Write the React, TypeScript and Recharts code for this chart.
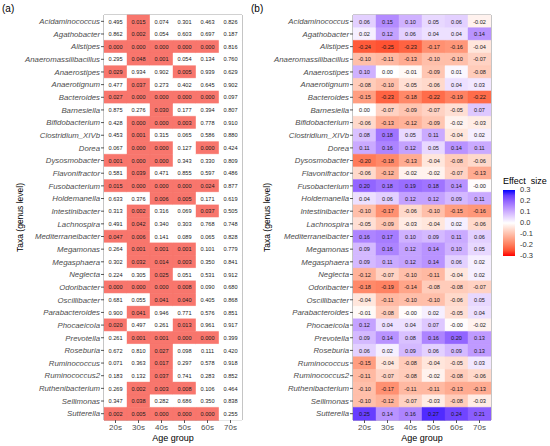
import React from "react";
import {
  BarChart,
  Bar,
  Cell,
  XAxis,
  YAxis,
  LabelList,
  ReferenceArea,
} from "recharts";

const taxa = [
  "Acidaminococcus",
  "Agathobacter",
  "Alistipes",
  "Anaeromassilibacillus",
  "Anaerostipes",
  "Anaerotignum",
  "Bacteroides",
  "Barnesiella",
  "Bifidobacterium",
  "Clostridium_XIVb",
  "Dorea",
  "Dysosmobacter",
  "Flavonifractor",
  "Fusobacterium",
  "Holdemanella",
  "Intestinibacter",
  "Lachnospira",
  "Mediterraneibacter",
  "Megamonas",
  "Megasphaera",
  "Neglecta",
  "Odoribacter",
  "Oscillibacter",
  "Parabacteroides",
  "Phocaeicola",
  "Prevotella",
  "Roseburia",
  "Ruminococcus",
  "Ruminococcus2",
  "Ruthenibacterium",
  "Sellimonas",
  "Sutterella",
];

const ageGroups = ["20s", "30s", "40s", "50s", "60s", "70s"];

// p-values, one row per taxon, columns 20s..70s
const pValues = [
  [0.495, 0.015, 0.074, 0.301, 0.463, 0.826],
  [0.862, 0.002, 0.054, 0.603, 0.697, 0.187],
  [0.0, 0.0, 0.0, 0.0, 0.0, 0.816],
  [0.295, 0.048, 0.001, 0.054, 0.134, 0.76],
  [0.029, 0.934, 0.902, 0.005, 0.939, 0.629],
  [0.477, 0.037, 0.273, 0.402, 0.645, 0.902],
  [0.027, 0.0, 0.0, 0.0, 0.0, 0.097],
  [0.875, 0.276, 0.03, 0.177, 0.394, 0.807],
  [0.428, 0.0, 0.0, 0.003, 0.778, 0.91],
  [0.453, 0.001, 0.315, 0.065, 0.586, 0.88],
  [0.067, 0.0, 0.0, 0.127, 0.0, 0.424],
  [0.001, 0.0, 0.0, 0.343, 0.33, 0.809],
  [0.581, 0.039, 0.471, 0.855, 0.597, 0.486],
  [0.015, 0.0, 0.0, 0.0, 0.024, 0.877],
  [0.633, 0.376, 0.006, 0.005, 0.171, 0.619],
  [0.313, 0.002, 0.316, 0.069, 0.037, 0.505],
  [0.491, 0.042, 0.34, 0.303, 0.768, 0.748],
  [0.047, 0.006, 0.141, 0.089, 0.065, 0.828],
  [0.264, 0.001, 0.001, 0.001, 0.101, 0.779],
  [0.302, 0.032, 0.014, 0.003, 0.35, 0.841],
  [0.224, 0.305, 0.025, 0.051, 0.531, 0.912],
  [0.0, 0.0, 0.0, 0.008, 0.09, 0.68],
  [0.681, 0.055, 0.041, 0.04, 0.405, 0.868],
  [0.9, 0.041, 0.946, 0.771, 0.576, 0.851],
  [0.02, 0.497, 0.261, 0.013, 0.961, 0.917],
  [0.261, 0.001, 0.001, 0.0, 0.0, 0.399],
  [0.672, 0.81, 0.027, 0.098, 0.111, 0.42],
  [0.071, 0.363, 0.017, 0.297, 0.578, 0.918],
  [0.183, 0.132, 0.037, 0.741, 0.283, 0.852],
  [0.269, 0.002, 0.003, 0.008, 0.106, 0.464],
  [0.347, 0.038, 0.282, 0.686, 0.35, 0.838],
  [0.002, 0.005, 0.0, 0.0, 0.0, 0.255],
];

// effect sizes, same layout
const effectSizes = [
  [0.06, 0.15, 0.1, 0.05, 0.06, -0.02],
  [0.02, 0.12, 0.06, 0.04, 0.04, 0.14],
  [-0.24, -0.25, -0.23, -0.17, -0.16, -0.04],
  [-0.1, -0.11, -0.13, -0.1, -0.1, -0.07],
  [0.1, 0.0, -0.01, -0.09, 0.01, -0.08],
  [-0.08, -0.1, -0.05, -0.06, 0.04, 0.03],
  [-0.15, -0.23, -0.18, -0.22, -0.19, -0.22],
  [0.0, -0.07, -0.09, -0.07, -0.05, 0.07],
  [-0.06, -0.13, -0.12, -0.09, -0.02, -0.03],
  [0.08, 0.18, 0.05, 0.11, -0.04, 0.02],
  [0.11, 0.16, 0.12, 0.05, 0.14, 0.11],
  [-0.2, -0.18, -0.13, -0.04, -0.08, -0.06],
  [-0.06, -0.12, -0.02, -0.02, -0.07, -0.13],
  [0.2, 0.18, 0.19, 0.18, 0.14, -0.004],
  [0.04, 0.06, 0.12, 0.12, 0.09, 0.11],
  [-0.1, -0.17, -0.06, -0.1, -0.15, -0.16],
  [-0.05, -0.09, -0.03, -0.04, 0.02, -0.06],
  [0.16, 0.17, 0.1, 0.09, 0.11, 0.06],
  [0.09, 0.16, 0.12, 0.14, 0.1, 0.05],
  [0.09, 0.11, 0.12, 0.14, 0.06, 0.02],
  [-0.12, -0.07, -0.1, -0.11, -0.04, 0.02],
  [-0.18, -0.19, -0.14, -0.08, -0.08, -0.07],
  [-0.04, -0.11, -0.1, -0.1, -0.06, 0.05],
  [-0.01, -0.08, -0.004, 0.02, -0.05, 0.04],
  [0.12, 0.04, 0.04, 0.07, -0.004, -0.02],
  [0.09, 0.14, 0.08, 0.16, 0.2, 0.13],
  [0.06, 0.02, 0.09, 0.06, 0.09, 0.13],
  [-0.15, -0.04, -0.08, -0.04, -0.05, 0.03],
  [-0.11, -0.07, -0.08, -0.02, -0.08, -0.06],
  [-0.1, -0.17, -0.11, -0.11, -0.13, -0.13],
  [-0.1, -0.12, -0.07, -0.03, -0.08, -0.03],
  [0.25, 0.14, 0.16, 0.27, 0.24, 0.21],
];

const legendTicks = [0.3, 0.2, 0.1, 0.0, -0.1, -0.2, -0.3];

const FONT = "'Liberation Sans', Arial, sans-serif";
const SIG_RED = "#F8766D";

// --- colour helpers (Lab interpolation like ggplot's gradient2) ---
const toLin = (c: number) => {
  c /= 255;
  return c <= 0.04045 ? c / 12.92 : Math.pow((c + 0.055) / 1.055, 2.4);
};
const fromLin = (c: number) => {
  const v = c <= 0.0031308 ? 12.92 * c : 1.055 * Math.pow(c, 1 / 2.4) - 0.055;
  return Math.round(Math.max(0, Math.min(1, v)) * 255);
};
const rgbToLab = ([r, g, b]: number[]) => {
  const R = toLin(r), G = toLin(g), B = toLin(b);
  const X = (0.4124 * R + 0.3576 * G + 0.1805 * B) / 0.95047;
  const Y = 0.2126 * R + 0.7152 * G + 0.0722 * B;
  const Z = (0.0193 * R + 0.1192 * G + 0.9505 * B) / 1.08883;
  const f = (t: number) => (t > 0.008856 ? Math.cbrt(t) : 7.787 * t + 16 / 116);
  const fx = f(X), fy = f(Y), fz = f(Z);
  return [116 * fy - 16, 500 * (fx - fy), 200 * (fy - fz)];
};
const labToRgb = ([L, a, b]: number[]) => {
  const fy = (L + 16) / 116;
  const fx = fy + a / 500;
  const fz = fy - b / 200;
  const inv = (t: number) => (t > 0.206893 ? t * t * t : (t - 16 / 116) / 7.787);
  const X = inv(fx) * 0.95047, Y = inv(fy), Z = inv(fz) * 1.08883;
  const R = 3.2406 * X - 1.5372 * Y - 0.4986 * Z;
  const G = -0.9689 * X + 1.8758 * Y + 0.0415 * Z;
  const B = 0.0557 * X - 0.204 * Y + 1.057 * Z;
  return `rgb(${fromLin(R)},${fromLin(G)},${fromLin(B)})`;
};
const WHITE = rgbToLab([255, 255, 255]);
const RED = rgbToLab([255, 0, 0]);
const BLUE = rgbToLab([0, 0, 255]);

const effectColor = (v: number) => {
  const t = Math.max(-1, Math.min(1, v / 0.3));
  const end = t >= 0 ? BLUE : RED;
  const k = Math.abs(t);
  return labToRgb(WHITE.map((w, i) => w + (end[i] - w) * k));
};

const pColor = (p: number) => (p < 0.05 ? SIG_RED : "#ffffff");

const buildRows = (vals: number[][], digits: number) =>
  taxa.map((taxon, r) => {
    const row: any = { taxon };
    ageGroups.forEach((_, c) => {
      row[`u${c}`] = 1;
      row[`t${c}`] = vals[r][c].toFixed(digits);
    });
    return row;
  });

const rowsA = buildRows(pValues, 3);
const rowsB = buildRows(effectSizes, 2);

const cellText = (props: any) => {
  const vb = props.viewBox || props;
  const x = vb.x + vb.width / 2;
  const y = vb.y + vb.height / 2;
  return (
    <text
      x={x}
      y={y}
      textAnchor="middle"
      dominantBaseline="central"
      fontSize={5.6}
      fontFamily={FONT}
      fill="#1a1a1a"
    >
      {props.value}
    </text>
  );
};

const yTitle = (offset: number) => (props: any) => {
  const vb = props.viewBox;
  const cx = vb.x + offset;
  const cy = vb.y + vb.height / 2;
  return (
    <text
      x={cx}
      y={cy}
      transform={`rotate(-90 ${cx} ${cy})`}
      textAnchor="middle"
      dominantBaseline="central"
      fontSize={8.5}
      fontFamily={FONT}
      fill="#000"
    >
      Taxa (genus level)
    </text>
  );
};

const xTitle = (props: any) => {
  const vb = props.viewBox;
  return (
    <text
      x={vb.x + vb.width / 2}
      y={vb.y + 18}
      textAnchor="middle"
      dominantBaseline="central"
      fontSize={9}
      fontFamily={FONT}
      fill="#000"
    >
      Age group
    </text>
  );
};

interface HeatProps {
  rows: any[];
  values: number[][];
  colorFn: (v: number) => string;
  width: number;
  marginRight: number;
  yWidth: number;
  titleOffset: number;
}

const Heatmap = ({ rows, values, colorFn, width, marginRight, yWidth, titleOffset }: HeatProps) => (
  <BarChart
    width={width}
    height={446}
    data={rows}
    layout="vertical"
    barCategoryGap={0}
    margin={{ top: 15, right: marginRight, bottom: 0, left: 0 }}
  >
    <XAxis
      type="number"
      domain={[0, 6]}
      ticks={[0.5, 1.5, 2.5, 3.5, 4.5, 5.5]}
      tickFormatter={(v: number) => ageGroups[Math.floor(v)]}
      axisLine={false}
      tickSize={3}
      tickMargin={1}
      tickLine={{ stroke: "#555" }}
      tick={{ fontSize: 8, fill: "#4d4d4d", fontFamily: FONT }}
      height={26}
      allowDataOverflow
      label={{ content: xTitle }}
    />
    <YAxis
      type="category"
      dataKey="taxon"
      width={yWidth}
      interval={0}
      axisLine={false}
      tickSize={3}
      tickMargin={1}
      tickLine={{ stroke: "#555" }}
      tick={{ fontSize: 7.8, fill: "#4d4d4d", fontFamily: FONT, fontStyle: "italic" }}
      label={{ content: yTitle(titleOffset) }}
    />
    {ageGroups.map((g, c) => (
      <Bar key={g} dataKey={`u${c}`} stackId="s" isAnimationActive={false}>
        {rows.map((_, r) => {
          const col = colorFn(values[r][c]);
          return <Cell key={r} fill={col} stroke={col} strokeWidth={0.4} />;
        })}
        <LabelList dataKey={`t${c}`} content={cellText} />
      </Bar>
    ))}
    <ReferenceArea x1={0} x2={6} fill="none" stroke="#8c8c8c" strokeWidth={1} ifOverflow="extendDomain" />
  </BarChart>
);

export default function App() {
  const stops = [];
  for (let i = 0; i <= 12; i++) {
    const v = 0.3 - (0.6 * i) / 12;
    stops.push(`${effectColor(v)} ${((i / 12) * 100).toFixed(1)}%`);
  }
  return (
    <div
      style={{
        position: "absolute",
        left: 0,
        top: 0,
        width: 550,
        height: 446,
        background: "#fff",
        fontFamily: FONT,
        overflow: "hidden",
      }}
    >
      <div style={{ position: "absolute", left: 0, top: 0 }}>
        <Heatmap
          rows={rowsA}
          values={pValues}
          colorFn={pColor}
          width={250}
          marginRight={8}
          yWidth={104}
          titleOffset={20}
        />
      </div>
      <div style={{ position: "absolute", left: 250, top: 0 }}>
        <Heatmap
          rows={rowsB}
          values={effectSizes}
          colorFn={effectColor}
          width={300}
          marginRight={59}
          yWidth={103}
          titleOffset={17}
        />
      </div>
      <div style={{ position: "absolute", left: 2, top: 3, fontSize: 10, lineHeight: "12px" }}>(a)</div>
      <div style={{ position: "absolute", left: 251, top: 3, fontSize: 10, lineHeight: "12px" }}>(b)</div>
      {/* colour bar legend */}
      <div
        style={{
          position: "absolute",
          left: 503,
          top: 176,
          fontSize: 9,
          lineHeight: "11px",
          whiteSpace: "pre",
        }}
      >
        {"Effect  size"}
      </div>
      <div
        style={{
          position: "absolute",
          left: 503,
          top: 190,
          width: 12,
          height: 66,
          background: `linear-gradient(to bottom, ${stops.join(", ")})`,
        }}
      />
      {legendTicks.map((t, i) => (
        <div
          key={t}
          style={{
            position: "absolute",
            left: 520,
            top: 190 + i * 11 - 5,
            fontSize: 7.5,
            lineHeight: "10px",
            color: "#333",
          }}
        >
          {t.toFixed(1)}
        </div>
      ))}
    </div>
  );
}
